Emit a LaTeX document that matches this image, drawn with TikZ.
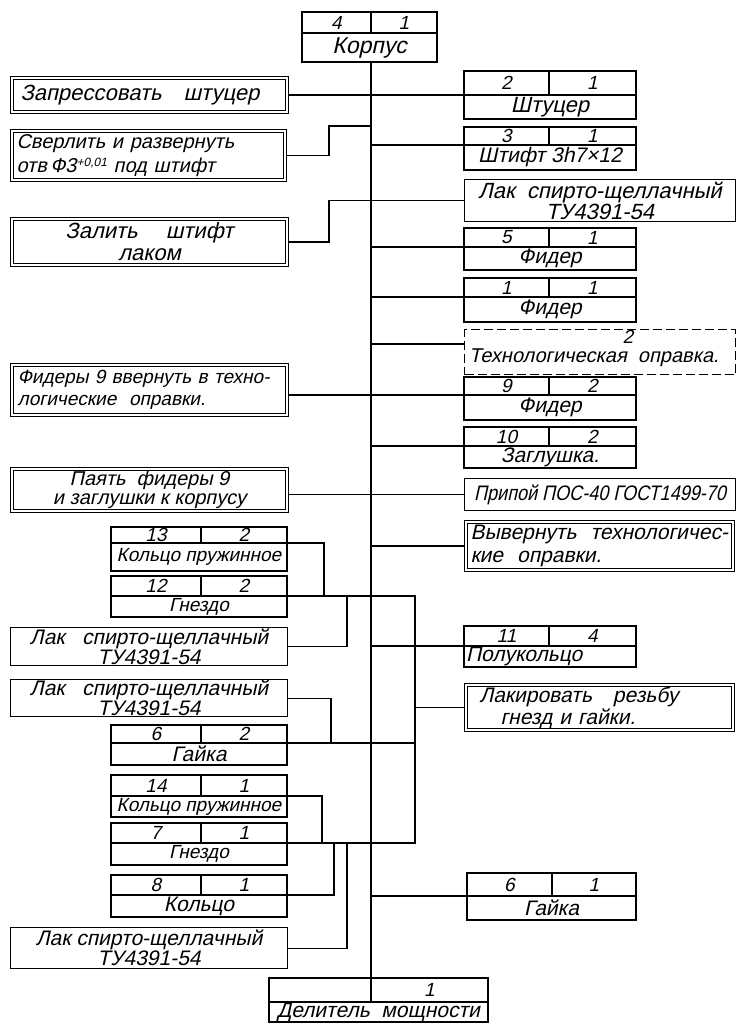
\documentclass[tikz,border=0pt]{standalone}
\usepackage{fontspec}
\newfontfamily\gost{Liberation Sans}[FakeSlant=0.22]
\newfontfamily\gostn{Liberation Sans}[FakeSlant=0.22,FakeStretch=0.86]
\usetikzlibrary{positioning}

\begin{document}
\begin{tikzpicture}[x=1pt, y=-1pt,
  cell/.style={draw, line width=1.1pt, inner sep=0pt, outer sep=0pt, font=\gost\fontsize{21}{22}\selectfont},
  num/.style={cell, font=\gost\fontsize{19}{20}\selectfont},
  opbox/.style={draw, double, double distance=2pt, line width=0.8pt, outer sep=1.8pt, inner sep=0pt, anchor=north west, font=\gost\fontsize{21}{23}\selectfont},
  matbox/.style={draw, line width=1.1pt, inner sep=0pt, anchor=north west, font=\gost\fontsize{21}{19}\selectfont},
  link/.style={line width=1.1pt}]
  \useasboundingbox (0,0) rectangle (736,1024);

  % Korpus (top)
  \node[num, anchor=north west, minimum width=69pt, minimum height=21pt] (korpus-n) at (302,12) {4};
  \node[num, minimum width=66pt, minimum height=21pt, right=0pt of korpus-n] (korpus-q) {1};
  \node[cell, minimum width=135pt, minimum height=29pt, below right=0pt of korpus-n.south west, font=\gost\fontsize{23}{24}\selectfont] (korpus-t) {Корпус};
  \coordinate (trunk) at (371,62);

  % Delitel (bottom)
  \node[num, anchor=north west, minimum width=102pt, minimum height=24pt] (delitel-n) at (269,978) {};
  \node[num, minimum width=117pt, minimum height=24pt, right=0pt of delitel-n] (delitel-q) {1};
  \node[cell, minimum width=219pt, minimum height=20pt, below right=0pt of delitel-n.south west] (delitel-t) {Делитель\ \ мощности};

  % Operations, left column
  \node[opbox, minimum width=275.4pt, minimum height=34.4pt, text width=258pt, align=left, font=\gost\fontsize{22}{23}\selectfont] (zapr) at (10,76) {Запрессовать\ \ \ штуцер};
  \node[opbox, minimum width=273.4pt, minimum height=49.4pt, text width=264pt, align=left, font=\gost\fontsize{20}{24}\selectfont] (sverl) at (10,129) {Сверлить и развернуть\\отв\,Ф3\raisebox{6pt}{\fontsize{12}{12}\selectfont+0,01} под штифт};
  \node[opbox, minimum width=275.4pt, minimum height=46.4pt, align=center, font=\gost\fontsize{22}{22}\selectfont] (zalit) at (10,217) {Залить\quad\ штифт\\лаком};
  \node[opbox, minimum width=275.4pt, minimum height=50.4pt, text width=264pt, align=left, font=\gost\fontsize{19}{22}\selectfont] (fid9) at (10,363) {Фидеры 9 ввернуть в техно-\\логические\ \ оправки.};
  \node[opbox, minimum width=275.4pt, minimum height=42.4pt, align=center, font=\gost\fontsize{20}{19}\selectfont] (payat) at (10,467) {Паять\ \ фидеры 9\\и заглушки к корпусу};

  % Operations, right column
  \node[opbox, minimum width=267.4pt, minimum height=48.4pt, text width=258pt, align=left] (vyvern) at (464,520) {Вывернуть\ \ технологичес-\\кие\ \ оправки.};
  \node[opbox, minimum width=267.4pt, minimum height=45.4pt, text width=240pt, align=left, font=\gost\fontsize{21}{22}\selectfont] (lakirov) at (464,683) {Лакировать\ \ \ резьбу\\\ \ \ гнезд и гайки.};

  % Materials
  \node[matbox, minimum width=271pt, minimum height=42pt, align=center, font=\gost\fontsize{22}{19}\selectfont] (lakR) at (464,179) {Лак\ \ спирто-щеллачный\\ТУ4391-54};
  \node[matbox, minimum width=271pt, minimum height=32pt, align=center, font=\gostn\fontsize{21}{22}\selectfont] (pripoi) at (464,478) {Припой ПОС-40 ГОСТ1499-70};
  \node[matbox, minimum width=277pt, minimum height=38pt, align=center, font=\gost\fontsize{21}{18}\selectfont] (lakL1) at (10,627) {Лак\ \ \ спирто-щеллачный\\ТУ4391-54};
  \node[matbox, minimum width=277pt, minimum height=37pt, align=center, font=\gost\fontsize{21}{17}\selectfont] (lakL2) at (10,679) {Лак\ \ \ спирто-щеллачный\\ТУ4391-54};
  \node[matbox, minimum width=277pt, minimum height=41pt, align=center, font=\gost\fontsize{21}{20}\selectfont] (lakL3) at (10,927) {Лак спирто-щеллачный\\ТУ4391-54};

  % Tooling (dashed)
  \node[matbox, dashed, dash pattern=on 9pt off 4pt, minimum width=271pt, minimum height=45pt] (tech) at (464,329) {};
  \node[font=\gost\fontsize{19}{20}\selectfont, inner sep=0pt] (tech-q) at (628,337) {2};
  \node[font=\gost\fontsize{20}{21}\selectfont, inner sep=0pt, anchor=west] (tech-t) at (469,358) {Технологическая\ \ оправка.};
  \coordinate (tech-in) at (464,344);

  % Parts, right column
  \node[num, anchor=north west, minimum width=85pt, minimum height=24pt] (shtucer-n) at (464,71) {2};
  \node[num, minimum width=87pt, minimum height=24pt, right=0pt of shtucer-n] (shtucer-q) {1};
  \node[cell, minimum width=172pt, minimum height=24pt, below right=0pt of shtucer-n.south west, font=\gost\fontsize{22}{22}\selectfont] (shtucer-t) {Штуцер};

  \node[num, anchor=north west, minimum width=85pt, minimum height=18pt] (shtift-n) at (464,127) {3};
  \node[num, minimum width=87pt, minimum height=18pt, right=0pt of shtift-n] (shtift-q) {1};
  \node[cell, minimum width=172pt, minimum height=25pt, below right=0pt of shtift-n.south west] (shtift-t) {Штифт 3h7×12};

  \node[num, anchor=north west, minimum width=85pt, minimum height=19pt] (fider5-n) at (464,228) {5};
  \node[num, minimum width=87pt, minimum height=19pt, right=0pt of fider5-n] (fider5-q) {1};
  \node[cell, minimum width=172pt, minimum height=23pt, below right=0pt of fider5-n.south west] (fider5-t) {Фидер};

  \node[num, anchor=north west, minimum width=85pt, minimum height=19pt] (fider1-n) at (464,278) {1};
  \node[num, minimum width=87pt, minimum height=19pt, right=0pt of fider1-n] (fider1-q) {1};
  \node[cell, minimum width=172pt, minimum height=25pt, below right=0pt of fider1-n.south west] (fider1-t) {Фидер};

  \node[num, anchor=north west, minimum width=85pt, minimum height=18pt] (fider9-n) at (464,377) {9};
  \node[num, minimum width=87pt, minimum height=18pt, right=0pt of fider9-n] (fider9-q) {2};
  \node[cell, minimum width=172pt, minimum height=25pt, below right=0pt of fider9-n.south west] (fider9-t) {Фидер};

  \node[num, anchor=north west, minimum width=85pt, minimum height=19pt] (zagl-n) at (464,427) {10};
  \node[num, minimum width=87pt, minimum height=19pt, right=0pt of zagl-n] (zagl-q) {2};
  \node[cell, minimum width=172pt, minimum height=22pt, below right=0pt of zagl-n.south west] (zagl-t) {Заглушка.};

  \node[num, anchor=north west, minimum width=85pt, minimum height=20pt] (polu-n) at (464,626) {11};
  \node[num, minimum width=87pt, minimum height=20pt, right=0pt of polu-n] (polu-q) {4};
  \node[cell, minimum width=172pt, minimum height=21pt, below right=0pt of polu-n.south west, text width=168pt, align=left] (polu-t) {Полукольцо};

  \node[num, anchor=north west, minimum width=85pt, minimum height=23pt] (gaika61-n) at (467,873) {6};
  \node[num, minimum width=84pt, minimum height=23pt, right=0pt of gaika61-n] (gaika61-q) {1};
  \node[cell, minimum width=169pt, minimum height=24pt, below right=0pt of gaika61-n.south west] (gaika61-t) {Гайка};

  % Parts, left column
  \node[num, anchor=north west, minimum width=90pt, minimum height=16pt] (kolco13-n) at (111,527) {13};
  \node[num, minimum width=86pt, minimum height=16pt, right=0pt of kolco13-n] (kolco13-q) {2};
  \node[cell, minimum width=176pt, minimum height=28pt, below right=0pt of kolco13-n.south west, font=\gost\fontsize{19}{20}\selectfont] (kolco13-t) {Кольцо пружинное};

  \node[num, anchor=north west, minimum width=90pt, minimum height=20pt] (gnezdo12-n) at (111,576) {12};
  \node[num, minimum width=86pt, minimum height=20pt, right=0pt of gnezdo12-n] (gnezdo12-q) {2};
  \node[cell, minimum width=176pt, minimum height=21pt, below right=0pt of gnezdo12-n.south west, font=\gost\fontsize{19}{20}\selectfont] (gnezdo12-t) {Гнездо};

  \node[num, anchor=north west, minimum width=90pt, minimum height=18pt] (gaika62-n) at (111,725) {6};
  \node[num, minimum width=86pt, minimum height=18pt, right=0pt of gaika62-n] (gaika62-q) {2};
  \node[cell, minimum width=176pt, minimum height=22pt, below right=0pt of gaika62-n.south west] (gaika62-t) {Гайка};

  \node[num, anchor=north west, minimum width=90pt, minimum height=21pt] (kolco14-n) at (111,775) {14};
  \node[num, minimum width=86pt, minimum height=21pt, right=0pt of kolco14-n] (kolco14-q) {1};
  \node[cell, minimum width=176pt, minimum height=21pt, below right=0pt of kolco14-n.south west, font=\gost\fontsize{19}{20}\selectfont] (kolco14-t) {Кольцо пружинное};

  \node[num, anchor=north west, minimum width=90pt, minimum height=20pt] (gnezdo7-n) at (111,823) {7};
  \node[num, minimum width=86pt, minimum height=20pt, right=0pt of gnezdo7-n] (gnezdo7-q) {1};
  \node[cell, minimum width=176pt, minimum height=22pt, below right=0pt of gnezdo7-n.south west, font=\gost\fontsize{19}{20}\selectfont] (gnezdo7-t) {Гнездо};

  \node[num, anchor=north west, minimum width=90pt, minimum height=20pt] (kolco8-n) at (111,875) {8};
  \node[num, minimum width=86pt, minimum height=20pt, right=0pt of kolco8-n] (kolco8-q) {1};
  \node[cell, minimum width=176pt, minimum height=22pt, below right=0pt of kolco8-n.south west] (kolco8-t) {Кольцо};

  % Main line
  \draw[link, line width=1.3pt] (korpus-n.south east |- korpus-t.south) -- (delitel-n.north east);

  % Connections to the main line
  \coordinate (jSv) at (329,126);
  \coordinate (jZ) at (329,242);
  \draw[link] (zapr.east) -- (shtucer-n.south west);
  \draw[link] (sverl.east) -| (jSv) -- (jSv -| trunk);
  \draw[link] (shtift-n.south west -| trunk) -- (shtift-n.south west);
  \draw[link] (lakR.west) -| (jZ) -- (jZ -| zalit.east);
  \draw[link] (fider5-n.south west -| trunk) -- (fider5-n.south west);
  \draw[link] (fider1-n.south west -| trunk) -- (fider1-n.south west);
  \draw[link] (tech-in -| trunk) -- (tech-in);
  \draw[link] (fid9.east |- fider9-n.south west) -- (fider9-n.south west);
  \draw[link] (zagl-n.south west -| trunk) -- (zagl-n.south west);
  \draw[link] (payat.east |- pripoi.west) -- (pripoi.west);
  \draw[link] (vyvern.west -| trunk) -- (vyvern.west);
  \draw[link] (polu-n.south west -| trunk) -- (polu-n.south west);
  \draw[link] (gaika61-n.south west -| trunk) -- (gaika61-n.south west);

  % Sub-assembly of sockets and nuts
  \coordinate (bus) at (415,596);
  \coordinate (j13) at (324,596);
  \coordinate (jL1) at (347,596);
  \coordinate (jL2) at (331,743);
  \coordinate (j14) at (322,843);
  \coordinate (j8) at (334,843);
  \coordinate (jL3) at (347,843);
  \draw[link] (gnezdo12-q.south east) -- (bus) -- (bus |- gnezdo7-q.south east) -- (gnezdo7-q.south east);
  \draw[link] (kolco13-q.south east) -| (j13);
  \draw[link] (lakL1.east) -| (jL1);
  \draw[link] (lakL2.east) -| (jL2);
  \draw[link] (gaika62-q.south east) -- (gaika62-q.south east -| bus);
  \draw[link] (lakirov.west -| bus) -- (lakirov.west);
  \draw[link] (kolco14-q.south east) -| (j14);
  \draw[link] (kolco8-q.south east) -| (j8);
  \draw[link] (lakL3.east) -| (jL3);
\end{tikzpicture}
\end{document}
